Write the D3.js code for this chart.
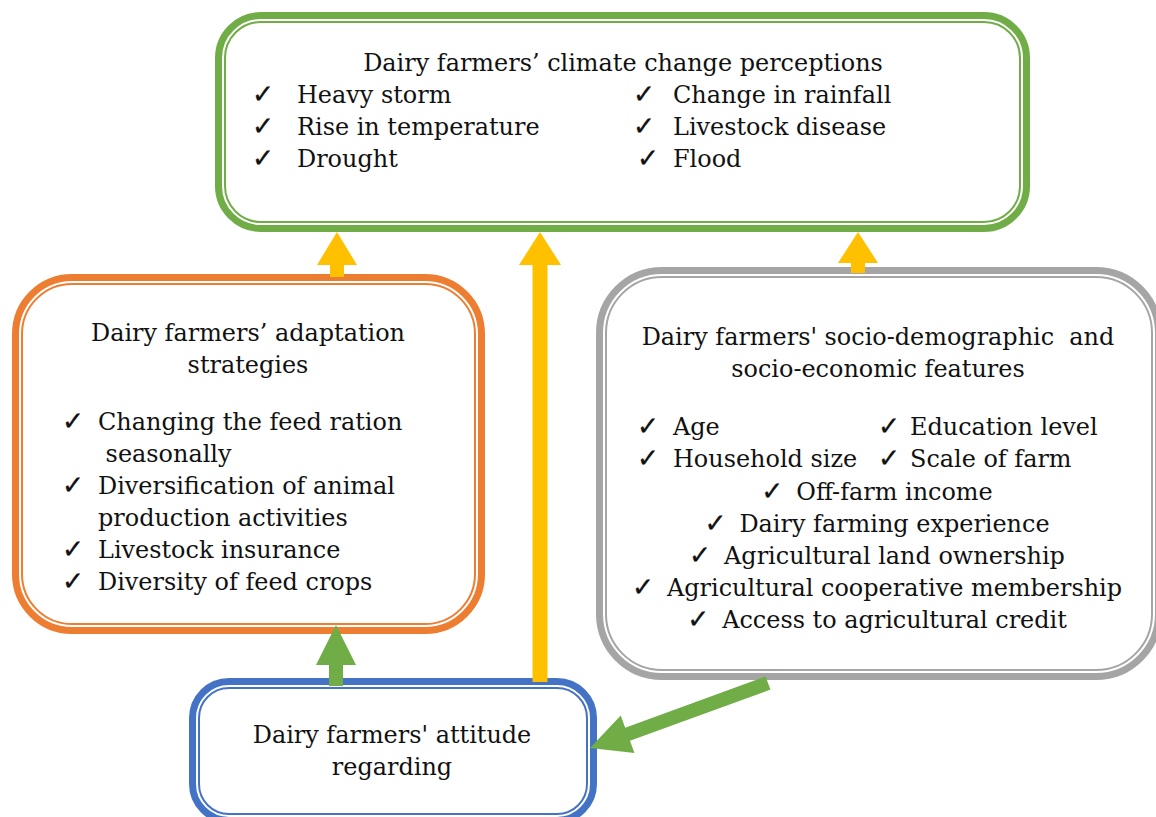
<!DOCTYPE html>
<html>
<head>
<meta charset="utf-8">
<script src="https://cdn.jsdelivr.net/npm/d3@7"></script>
<style>
  body { margin: 0; background: #fff; }
  svg { display: block; }
  text { font-family: "DejaVu Serif", serif; fill: #111; white-space: pre; }
  text.check { font-family: "DejaVu Sans", sans-serif; }
</style>
</head>
<body>
<div id="canvas"></div>
<script>
(function () {
  'use strict';

  // box texts
  const perceptionsTitle = ['Dairy farmers\u2019 climate change perceptions'];
  const perceptionsLeft = ['Heavy storm', 'Rise in temperature', 'Drought'];
  const perceptionsRight = ['Change in rainfall', 'Livestock disease', 'Flood'];
  const adaptationTitle = ['Dairy farmers\u2019 adaptation', 'strategies'];
  const adaptationItems = [
    ['Changing the feed ration', ' seasonally'],
    ['Diversification of animal', 'production activities'],
    ['Livestock insurance'],
    ['Diversity of feed crops']
  ];
  const featuresTitle = ["Dairy farmers' socio-demographic  and", 'socio-economic features'];
  const featuresLeft = ['Age', 'Household size'];
  const featuresRight = ['Education level', 'Scale of farm'];
  const featuresItems = ['Off-farm income', 'Dairy farming experience', 'Agricultural land ownership',
    'Agricultural cooperative membership', 'Access to agricultural credit'];
  const attitudeTitle = ["Dairy farmers' attitude", 'regarding'];

  const width = 1156;
  const height = 817;
  const CHECK = '\u2713';

  const svg = d3.select('#canvas')
    .append('svg')
    .attr('width', width)
    .attr('height', height);

  // work out a font size so the top title gets its width in the picture
  const probe = svg.append('text').style('font-size', '23px').text(perceptionsTitle[0]);
  const fs = 23 * 520 / probe.node().getComputedTextLength();
  probe.remove();

  // double bordered rounded boxes (thick outside, thin inside)
  const boxes = [
    { x: 215, y: 12, w: 815, h: 220, r: 46, color: '#70AD47' },
    { x: 12, y: 274, w: 473, h: 360, r: 60, color: '#ED7D31' },
    { x: 596, y: 267, w: 566, h: 413, r: 66, color: '#A5A5A5' },
    { x: 189, y: 678, w: 408, h: 146, r: 40, color: '#4472C4' }
  ];

  boxes.forEach(b => {
    svg.append('rect')
      .attr('x', b.x + 3.5).attr('y', b.y + 3.5)
      .attr('width', b.w - 7).attr('height', b.h - 7)
      .attr('rx', b.r - 3.5)
      .attr('fill', '#fff')
      .attr('stroke', b.color)
      .attr('stroke-width', 7);
    svg.append('rect')
      .attr('x', b.x + 10).attr('y', b.y + 10)
      .attr('width', b.w - 20).attr('height', b.h - 20)
      .attr('rx', b.r - 10)
      .attr('fill', 'none')
      .attr('stroke', b.color)
      .attr('stroke-width', 2);
  });

  // block arrow from (x1,y1) to tip (x2,y2)
  function arrow(x1, y1, x2, y2, shaftW, headW, headL, color) {
    const dx = x2 - x1, dy = y2 - y1;
    const len = Math.sqrt(dx * dx + dy * dy);
    const ux = dx / len, uy = dy / len;
    const nx = -uy, ny = ux;
    const bx = x2 - ux * headL, by = y2 - uy * headL;
    const s = shaftW / 2, h = headW / 2;
    const pts = [
      [x1 + nx * s, y1 + ny * s],
      [bx + nx * s, by + ny * s],
      [bx + nx * h, by + ny * h],
      [x2, y2],
      [bx - nx * h, by - ny * h],
      [bx - nx * s, by - ny * s],
      [x1 - nx * s, y1 - ny * s]
    ];
    svg.append('path')
      .attr('d', d3.line()(pts) + 'Z')
      .attr('fill', color);
  }

  arrow(337, 277, 337, 232, 14, 40, 33, '#FFC000');
  arrow(540, 682, 540, 232, 15, 42, 33, '#FFC000');
  arrow(858, 273, 858, 232, 14, 40, 31, '#FFC000');
  arrow(336, 686, 336, 625, 14, 40, 40, '#70AD47');
  arrow(768, 683, 590, 748, 14, 40, 40, '#70AD47');

  function addText(x, y, str, anchor) {
    return svg.append('text')
      .attr('x', x).attr('y', y)
      .attr('text-anchor', anchor || 'start')
      .style('font-size', fs + 'px')
      .text(str);
  }
  function addCheck(x, y) {
    svg.append('text')
      .attr('class', 'check')
      .attr('x', x).attr('y', y)
      .style('font-size', (fs * 1.1) + 'px')
      .style('stroke', '#111')
      .style('stroke-width', 0.3)
      .text(CHECK);
  }

  // climate change perceptions
  addText(623, 71, perceptionsTitle[0], 'middle');
  perceptionsLeft.forEach((t, i) => {
    addCheck(252, 103 + i * 32);
    addText(297, 103 + i * 32, t);
  });
  perceptionsRight.forEach((t, i) => {
    addCheck(t === 'Flood' ? 637 : 633, 103 + i * 32);
    addText(673, 103 + i * 32, t);
  });

  // adaptation strategies
  adaptationTitle.forEach((t, i) => addText(248, 341 + i * 32, t, 'middle'));
  let line = 0;
  adaptationItems.forEach(item => {
    item.forEach((t, j) => {
      const y = 430 + line * 32;
      if (j === 0) addCheck(62, y);
      addText(98, y, t);
      line++;
    });
  });

  // socio-demographic features
  featuresTitle.forEach((t, i) => addText(878, 345 + i * 32, t, 'middle'));
  featuresLeft.forEach((t, i) => {
    addCheck(637, 435 + i * 32);
    addText(673, 435 + i * 32, t);
  });
  featuresRight.forEach((t, i) => {
    addCheck(878, 435 + i * 32);
    addText(910, 435 + i * 32, t);
  });
  featuresItems.forEach((t, i) => {
    const y = 500 + i * 32;
    const label = addText(0, y, t);
    const w = label.node().getComputedTextLength() + 35;
    const x0 = 877 - w / 2;
    label.attr('x', x0 + 35);
    addCheck(x0, y);
  });

  // attitude
  attitudeTitle.forEach((t, i) => addText(392, 743 + i * 32, t, 'middle'));
}());
</script>
</body>
</html>
